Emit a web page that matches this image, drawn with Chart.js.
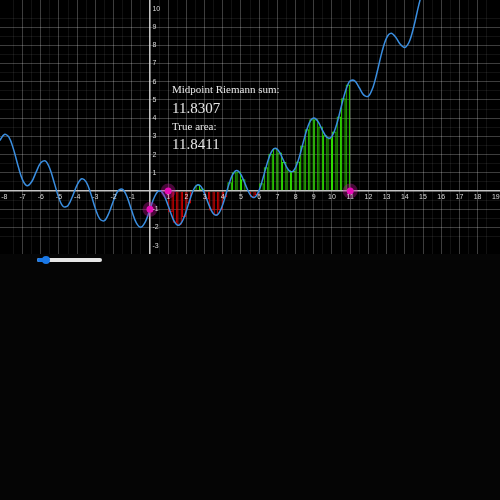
<!DOCTYPE html>
<html>
<head>
<meta charset="utf-8">
<script src="https://cdn.jsdelivr.net/npm/chart.js@4.4.1/dist/chart.umd.min.js"></script>
<style>
  html, body { margin:0; padding:0; width:500px; height:500px; overflow:hidden; background:#050505; }
  #wrap { position:absolute; left:0; top:0; width:500px; height:254px; background:#000; }
  canvas { display:block; }
  .txt { position:absolute; left:172px; color:#e8e8e8; font-family:"Liberation Serif","Times New Roman",serif; line-height:1; white-space:nowrap; }
  .track { position:absolute; left:37px; top:258px; width:65px; height:4px; background:#e6e6e6; border-radius:2px; }
  .fill { position:absolute; left:37px; top:258px; width:10px; height:4px; background:#1a78e6; border-radius:2px; }
  .knob { position:absolute; left:42px; top:256px; width:8px; height:8px; background:#1a78e6; border-radius:50%; }
</style>
</head>
<body>
<div id="wrap"><canvas id="c" width="500" height="254"></canvas></div>
<div class="txt" id="t1" style="top:83.5px;font-size:11px"></div>
<div class="txt" id="t2" style="top:100.6px;font-size:15px"></div>
<div class="txt" id="t3" style="top:121.2px;font-size:11px"></div>
<div class="txt" id="t4" style="top:136.6px;font-size:15px"></div>
<div class="track"></div><div class="fill"></div><div class="knob"></div>
<script>
// ---- data ----
const xTickLabels = [-8,-7,-6,-5,-4,-3,-2,-1,1,2,3,4,5,6,7,8,9,10,11,12,13,14,15,16,17,18,19];
const yTickLabels = [10,9,8,7,6,5,4,3,2,1,-1,-2,-3];

// curve samples, x from -8.25 in steps of 0.25
const curveStart = -8.25;
const curveStep = 0.25;
const curveValues = [
  2.776, 3.106, 2.955, 2.300, 1.389, 0.613, 0.293, 0.507, 1.052, 1.551,
  1.653, 1.224, 0.420, -0.400, -0.866, -0.791, -0.280, 0.337, 0.671, 0.492,
  -0.152, -0.962, -1.544, -1.626, -1.197, -0.521, 0.012, 0.090, -0.350, -1.091,
  -1.750, -1.985, -1.679, -1.000, -0.315, 0.010, -0.194, -0.809, -1.494, -1.865,
  -1.706, -1.079, -0.297, 0.251, 0.301, -0.138, -0.791, -1.267, -1.265, -0.737,
  0.086, 0.816, 1.122, 0.900, 0.336, -0.199, -0.347, 0.049, 0.854, 1.718,
  2.264, 2.287, 1.867, 1.325, 1.052, 1.294, 2.030, 2.972, 3.727, 4.006,
  3.779, 3.289, 2.925, 3.012, 3.635, 4.597, 5.519, 6.050, 6.051, 5.670,
  5.265, 5.208, 5.690, 6.615, 7.652, 8.414, 8.665, 8.447, 8.055, 7.884,
  8.210, 9.049, 10.143, 11.101
];

// midpoint rectangles on [1, 11], 40 of them
const intervalStart = 1;
const intervalEnd = 11;
const rectCount = 40;
const midpointValues = [
  -1.168, -1.738, -1.855, -1.436, -0.683, 0.028, 0.344, 0.131, -0.462, -1.075,
  -1.336, -1.057, -0.339, 0.487, 1.035, 1.072, 0.640, 0.040, -0.337, -0.215,
  0.419, 1.304, 2.050, 2.342, 2.116, 1.586, 1.134, 1.103, 1.614, 2.499,
  3.395, 3.935, 3.946, 3.543, 3.067, 2.900, 3.263, 4.095, 5.088, 5.849
];

const markerX = [0, 1, 11];
const markerY = [-1, 0, 0];

const captionSum = "Midpoint Riemann sum:";
const valueSum = "11.8307";
const captionArea = "True area:";
const valueArea = "11.8411";

// ---- build ----
document.getElementById('t1').textContent = captionSum;
document.getElementById('t2').textContent = valueSum;
document.getElementById('t3').textContent = captionArea;
document.getElementById('t4').textContent = valueArea;

const rectWidth = (intervalEnd - intervalStart) / rectCount;
const barData = midpointValues.map((v, i) => ({ x: intervalStart + (i + 0.5) * rectWidth, y: v }));
const curveData = curveValues.map((v, i) => ({ x: curveStart + i * curveStep, y: v }));
const lineData = curveData.concat(barData).sort((a, b) => a.x - b.x);
const markerData = markerX.map((x, i) => ({ x: x, y: markerY[i] }));

function isMultiple(v, s) { const q = v / s; return Math.abs(q - Math.round(q)) < 1e-9; }
function gridColor(ctx) {
  const v = ctx.tick ? ctx.tick.value : undefined;
  if (v === undefined) return 'rgba(0,0,0,0)';
  if (Math.abs(v) < 1e-9) return 'rgba(215,215,215,0.9)';
  if (isMultiple(v, 1)) return 'rgba(255,255,255,0.24)';
  if (isMultiple(v, 0.5)) return 'rgba(255,255,255,0.07)';
  return 'rgba(0,0,0,0)';
}
function gridWidth(ctx) {
  const v = ctx.tick ? ctx.tick.value : undefined;
  if (v !== undefined && Math.abs(v) < 1e-9) return 1.6;
  return 1;
}

const labelPlugin = {
  id: 'axisLabels',
  afterDatasetsDraw(chart) {
    const { ctx, scales: { x, y } } = chart;
    ctx.save();
    ctx.fillStyle = '#dadada';
    ctx.font = '7px "Liberation Sans", Arial, sans-serif';
    ctx.textAlign = 'center';
    ctx.textBaseline = 'middle';
    const y0 = y.getPixelForValue(0);
    xTickLabels.forEach(v => ctx.fillText(String(v), x.getPixelForValue(v), y0 + 6));
    ctx.textAlign = 'left';
    const x0 = x.getPixelForValue(0);
    yTickLabels.forEach(v => ctx.fillText(String(v), x0 + 2.5, y.getPixelForValue(v)));
    ctx.restore();
  }
};

new Chart(document.getElementById('c'), {
  type: 'bar',
  data: {
    datasets: [
      {
        type: 'scatter', data: markerData, order: -1,
        pointRadius: 3.5, pointBackgroundColor: '#e80cb8', pointBorderWidth: 0, showLine: false
      },
      {
        type: 'scatter', data: markerData, order: 0,
        pointRadius: 7.5, pointBackgroundColor: 'rgba(190,20,150,0.38)', pointBorderWidth: 0, showLine: false
      },
      {
        type: 'line', data: lineData, order: 1,
        borderColor: '#3a8ee0', borderWidth: 1.5, pointRadius: 0, tension: 0.35, fill: false
      },
      {
        type: 'bar', data: barData, order: 2,
        backgroundColor: c => (c.raw && c.raw.y >= 0) ? 'rgba(40,230,0,0.04)' : 'rgba(240,0,0,0.04)',
        borderColor: c => (c.raw && c.raw.y >= 0) ? '#30e000' : '#e80000',
        borderWidth: 1, borderSkipped: 'start', inflateAmount: 0,
        barPercentage: 1, categoryPercentage: 1
      }
    ]
  },
  options: {
    responsive: false, animation: false, devicePixelRatio: 1, events: [],
    layout: { padding: 0, autoPadding: false },
    plugins: { legend: { display: false }, tooltip: { enabled: false } },
    scales: {
      x: {
        type: 'linear', min: -8.24, max: 19.23, offset: false,
        border: { display: false },
        grid: { offset: false, drawTicks: false, color: gridColor, lineWidth: gridWidth },
        ticks: { display: false, stepSize: 0.5, autoSkip: false }
      },
      y: {
        type: 'linear', min: -3.46, max: 10.49,
        border: { display: false },
        grid: { drawTicks: false, color: gridColor, lineWidth: gridWidth },
        ticks: { display: false, stepSize: 0.5, autoSkip: false }
      }
    }
  },
  plugins: [labelPlugin]
});
</script>
</body>
</html>
